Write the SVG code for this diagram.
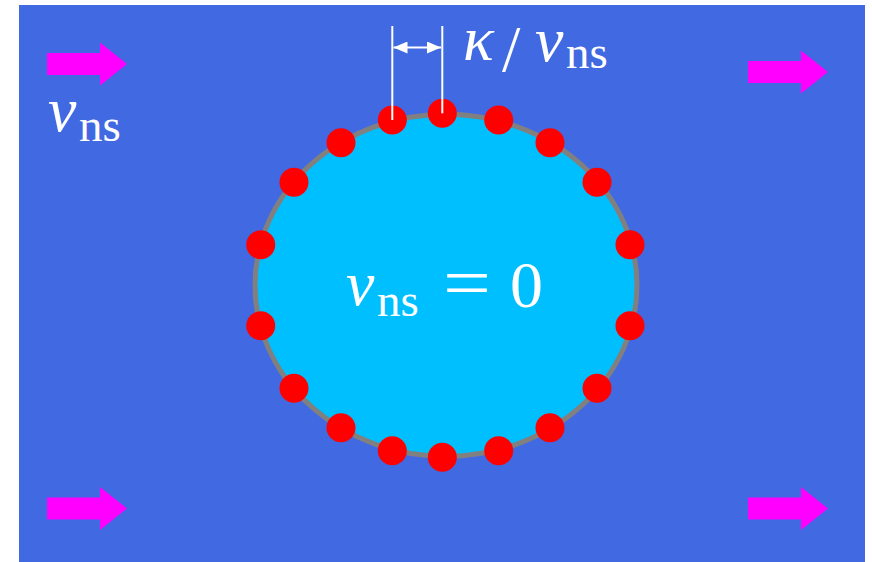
<svg xmlns="http://www.w3.org/2000/svg" xmlns:xlink="http://www.w3.org/1999/xlink" width="872" height="562" viewBox="0 0 872 562">
<style>
.math{font-family:"Liberation Serif","Times New Roman",serif;fill:#fff;}
.it{font-style:italic;font-size:64px;}
.rm{font-size:66px;}
.sub{font-size:47px;}
.dot{fill:#ff0000;}
.flow{fill:#ff00ff;}
.dim{stroke:#fff;stroke-width:2;fill:none;}
</style>
<defs>
<polygon id="flowArrow" points="0,-11 53,-11 53,-21.5 80,0 53,21.5 53,11 0,11"/>
<marker id="dimHead" viewBox="0 0 14 12" refX="14" refY="6" markerWidth="14" markerHeight="12" markerUnits="userSpaceOnUse" orient="auto-start-reverse">
<path d="M0,0 L14,6 L0,12 Z" fill="#fff"/>
</marker>
</defs>
<rect id="background" x="19" y="5" width="846" height="557" fill="#4169e1"/>
<g id="flow-arrows">
<use xlink:href="#flowArrow" class="flow" transform="translate(47,64)"/>
<use xlink:href="#flowArrow" class="flow" transform="translate(748,72)"/>
<use xlink:href="#flowArrow" class="flow" transform="translate(47,508.5)"/>
<use xlink:href="#flowArrow" class="flow" transform="translate(748,508.5)"/>
</g>
<g id="label-outside">
<text class="math"><tspan class="it" x="48" y="131">v</tspan><tspan class="sub" x="79" y="141">ns</tspan></text>
</g>
<g id="region">
<ellipse cx="446" cy="285.3" rx="191" ry="171" fill="#00bfff" stroke="#808080" stroke-width="5"/>
<text class="math"><tspan class="it" x="346" y="305">v</tspan><tspan class="sub" x="377" y="316">ns</tspan><tspan x="443" y="307" font-size="72" textLength="48" lengthAdjust="spacingAndGlyphs">=</tspan><tspan class="rm" x="510" y="307" font-size="68">0</tspan></text>
</g>
<g id="dots">
<circle class="dot" cx="392.3" cy="120" r="14.5"/>
<circle class="dot" cx="442.3" cy="113.3" r="14.5"/>
<circle class="dot" cx="498.7" cy="120" r="14.5"/>
<circle class="dot" cx="341" cy="142.7" r="14.5"/>
<circle class="dot" cx="550" cy="142.7" r="14.5"/>
<circle class="dot" cx="294" cy="182.3" r="14.5"/>
<circle class="dot" cx="597" cy="182.3" r="14.5"/>
<circle class="dot" cx="260.7" cy="244.7" r="14.5"/>
<circle class="dot" cx="630" cy="244.7" r="14.5"/>
<circle class="dot" cx="260.7" cy="325.7" r="14.5"/>
<circle class="dot" cx="630" cy="325.7" r="14.5"/>
<circle class="dot" cx="294" cy="388.3" r="14.5"/>
<circle class="dot" cx="597" cy="388.3" r="14.5"/>
<circle class="dot" cx="341" cy="427.7" r="14.5"/>
<circle class="dot" cx="550" cy="427.7" r="14.5"/>
<circle class="dot" cx="392.3" cy="450.7" r="14.5"/>
<circle class="dot" cx="442.3" cy="457.3" r="14.5"/>
<circle class="dot" cx="498.7" cy="450.7" r="14.5"/>
</g>
<g id="connectors">
<line class="dim" x1="392.3" y1="26" x2="392.3" y2="120"/>
<line class="dim" x1="442.3" y1="26" x2="442.3" y2="113.3"/>
<line class="dim" x1="393.5" y1="47.5" x2="441" y2="47.5" marker-start="url(#dimHead)" marker-end="url(#dimHead)"/>
</g>
<g id="label-spacing">
<text class="math"><tspan class="it" x="463" y="60" font-size="60">κ</tspan><tspan x="502" y="71" font-size="66">/</tspan><tspan class="it" x="535" y="61" font-size="62">v</tspan><tspan class="sub" x="566" y="68" font-size="46">ns</tspan></text>
</g>
</svg>
